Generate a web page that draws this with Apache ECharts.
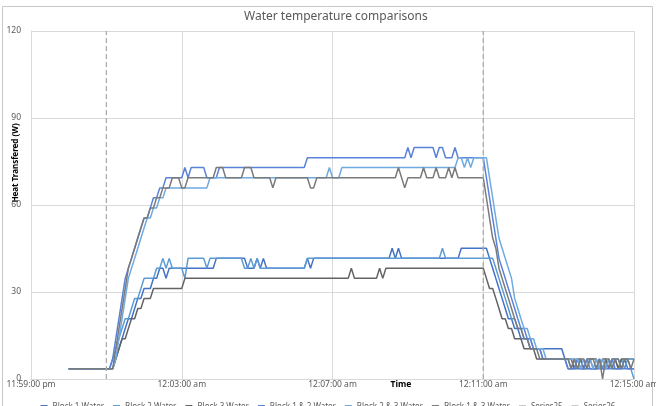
<!DOCTYPE html>
<html>
<head>
<meta charset="utf-8">
<script src="https://cdn.jsdelivr.net/npm/echarts@6/dist/echarts.min.js"></script>
<style>
html,body{margin:0;padding:0;background:#fff;}
#chart{width:656px;height:406px;}
</style>
</head>
<body>
<div id="chart"></div>
<script>
// X axis: seconds after 11:59:00 pm; tick labels every 4 minutes
const xTickLabels = ['11:59:00 pm', '12:03:00 am', '12:07:00 am', '12:11:00 am', '12:15:00 am'];
const xTickSeconds = [0, 240, 480, 720, 960];
const yTicks = [0, 30, 60, 90, 120];

// Samples every 5 s from 12:00:00 am (60 s) to 12:15:00 am (960 s); one row per minute
const sampleStartSec = 60;
const sampleStepSec = 5;

const seriesNames = ['Block 1 Water', 'Block 2 Water', 'Block 3 Water',
  'Block 1 & 2 Water', 'Block 2 & 3 Water', 'Block 1 & 3 Water', 'Series25', 'Series26'];

const block1 = [
  3.5,3.5,3.5,3.5,3.5,3.5,3.5,3.5,3.5,3.5,3.5,3.5,
  3.5,3.5,3.5,6.9,10.4,13.9,17.4,20.8,20.8,24.3,27.8,27.8,
  31.2,31.2,31.2,34.7,34.7,38.2,38.2,34.7,38.2,38.2,38.2,38.2,
  38.2,38.2,38.2,38.2,38.2,38.2,38.2,38.2,38.2,38.2,38.2,41.6,
  41.6,41.6,41.6,41.6,41.6,41.6,41.6,41.6,41.6,38.2,38.2,38.2,
  41.6,38.2,41.6,38.2,38.2,38.2,38.2,38.2,38.2,38.2,38.2,38.2,
  38.2,38.2,38.2,38.2,41.6,38.2,41.6,41.6,41.6,41.6,41.6,41.6,
  41.6,41.6,41.6,41.6,41.6,41.6,41.6,41.6,41.6,41.6,41.6,41.6,
  41.6,41.6,41.6,41.6,41.6,41.6,41.6,45.1,41.6,45.1,41.6,41.6,
  41.6,41.6,41.6,41.6,41.6,41.6,41.6,41.6,41.6,41.6,41.6,41.6,
  41.6,41.6,41.6,41.6,41.6,45.1,45.1,45.1,45.1,45.1,45.1,45.1,
  45.1,45.1,41.6,38.2,34.7,31.2,27.8,24.3,20.8,20.8,17.4,17.4,
  13.9,13.9,13.9,10.4,10.4,10.4,10.4,10.4,10.4,10.4,10.4,10.4,
  10.4,10.4,6.9,3.5,3.5,3.5,3.5,3.5,3.5,3.5,3.5,3.5,
  3.5,3.5,3.5,3.5,6.9,3.5,3.5,3.5,3.5,6.9,3.5,3.5,
  3.5
];
const block2 = [
  3.5,3.5,3.5,3.5,3.5,3.5,3.5,3.5,3.5,3.5,3.5,3.5,
  3.5,3.5,6.9,10.4,13.9,17.4,20.8,20.8,24.3,27.8,27.8,31.2,
  34.7,34.7,34.7,34.7,38.2,38.2,41.6,38.2,41.6,38.2,38.2,38.2,
  38.2,34.7,41.6,41.6,41.6,41.6,41.6,41.6,38.2,41.6,41.6,41.6,
  41.6,41.6,41.6,41.6,41.6,41.6,41.6,41.6,38.2,38.2,41.6,38.2,
  41.6,38.2,38.2,38.2,38.2,38.2,38.2,38.2,38.2,38.2,38.2,38.2,
  38.2,38.2,38.2,38.2,41.6,41.6,41.6,41.6,41.6,41.6,41.6,41.6,
  41.6,41.6,41.6,41.6,41.6,41.6,41.6,41.6,41.6,41.6,41.6,41.6,
  41.6,41.6,41.6,41.6,41.6,41.6,41.6,41.6,41.6,41.6,41.6,41.6,
  41.6,41.6,41.6,41.6,41.6,41.6,41.6,41.6,41.6,41.6,41.6,45.1,
  41.6,41.6,41.6,41.6,41.6,41.6,41.6,41.6,41.6,41.6,41.6,41.6,
  41.6,41.6,41.6,41.6,38.2,34.7,31.2,27.8,24.3,20.8,20.8,17.4,
  17.4,13.9,13.9,13.9,10.4,10.4,10.4,6.9,6.9,6.9,6.9,6.9,
  6.9,6.9,6.9,6.9,3.5,6.9,3.5,6.9,3.5,3.5,6.9,3.5,
  3.5,6.9,3.5,6.9,3.5,3.5,6.9,3.5,6.9,3.5,6.9,3.5,
  0
];
const block3 = [
  3.5,3.5,3.5,3.5,3.5,3.5,3.5,3.5,3.5,3.5,3.5,3.5,
  3.5,3.5,3.5,6.9,10.4,13.9,13.9,17.4,20.8,20.8,24.3,24.3,
  27.8,27.8,27.8,31.2,31.2,31.2,31.2,31.2,31.2,31.2,31.2,31.2,
  31.2,34.7,34.7,34.7,34.7,34.7,34.7,34.7,34.7,34.7,34.7,34.7,
  34.7,34.7,34.7,34.7,34.7,34.7,34.7,34.7,34.7,34.7,34.7,34.7,
  34.7,34.7,34.7,34.7,34.7,34.7,34.7,34.7,34.7,34.7,34.7,34.7,
  34.7,34.7,34.7,34.7,34.7,34.7,34.7,34.7,34.7,34.7,34.7,34.7,
  34.7,34.7,34.7,34.7,34.7,34.7,38.2,34.7,34.7,34.7,34.7,34.7,
  34.7,34.7,34.7,38.2,34.7,38.2,38.2,38.2,38.2,38.2,38.2,38.2,
  38.2,38.2,38.2,38.2,38.2,38.2,38.2,38.2,38.2,38.2,38.2,38.2,
  38.2,38.2,38.2,38.2,38.2,38.2,38.2,38.2,38.2,38.2,38.2,38.2,
  38.2,34.7,31.2,31.2,27.8,24.3,20.8,20.8,17.4,17.4,13.9,13.9,
  13.9,10.4,10.4,10.4,10.4,6.9,6.9,6.9,6.9,6.9,6.9,6.9,
  6.9,6.9,6.9,6.9,6.9,3.5,6.9,6.9,3.5,6.9,6.9,6.9,
  6.9,3.5,6.9,6.9,3.5,6.9,6.9,3.5,6.9,6.9,6.9,6.9,
  6.9
];
const block12 = [
  3.5,3.5,3.5,3.5,3.5,3.5,3.5,3.5,3.5,3.5,3.5,3.5,
  3.5,3.5,6.9,13.9,20.8,27.8,34.7,38.2,41.6,45.1,48.6,52.1,
  55.5,55.5,59.0,62.5,62.5,65.9,65.9,69.4,69.4,69.4,69.4,69.4,
  69.4,72.9,69.4,72.9,72.9,72.9,72.9,72.9,69.4,69.4,69.4,69.4,
  72.9,72.9,72.9,72.9,72.9,72.9,72.9,72.9,72.9,72.9,72.9,72.9,
  72.9,72.9,72.9,72.9,72.9,72.9,72.9,72.9,72.9,72.9,72.9,72.9,
  72.9,72.9,72.9,72.9,76.3,76.3,76.3,76.3,76.3,76.3,76.3,76.3,
  76.3,76.3,76.3,76.3,76.3,76.3,76.3,76.3,76.3,76.3,76.3,76.3,
  76.3,76.3,76.3,76.3,76.3,76.3,76.3,76.3,76.3,76.3,76.3,76.3,
  79.8,76.3,79.8,79.8,79.8,79.8,79.8,79.8,79.8,76.3,79.8,79.8,
  76.3,76.3,76.3,79.8,76.3,76.3,76.3,76.3,76.3,76.3,76.3,76.3,
  76.3,69.4,62.5,55.5,48.6,41.6,38.2,34.7,31.2,27.8,24.3,20.8,
  17.4,17.4,13.9,13.9,10.4,10.4,10.4,6.9,6.9,6.9,6.9,6.9,
  6.9,6.9,6.9,3.5,3.5,3.5,6.9,3.5,3.5,6.9,3.5,3.5,
  3.5,6.9,3.5,3.5,3.5,6.9,3.5,3.5,3.5,3.5,3.5,3.5,
  3.5
];
const block23 = [
  3.5,3.5,3.5,3.5,3.5,3.5,3.5,3.5,3.5,3.5,3.5,3.5,
  3.5,3.5,3.5,6.9,13.9,20.8,27.8,34.7,38.2,41.6,45.1,48.6,
  52.1,55.5,55.5,59.0,59.0,62.5,62.5,65.9,65.9,65.9,65.9,65.9,
  65.9,65.9,65.9,65.9,65.9,65.9,65.9,65.9,65.9,69.4,69.4,69.4,
  69.4,69.4,69.4,69.4,69.4,69.4,69.4,69.4,69.4,69.4,69.4,69.4,
  69.4,69.4,69.4,69.4,69.4,69.4,69.4,69.4,69.4,69.4,69.4,69.4,
  69.4,69.4,69.4,69.4,69.4,69.4,69.4,69.4,69.4,69.4,69.4,72.9,
  69.4,69.4,69.4,72.9,72.9,72.9,72.9,72.9,72.9,72.9,72.9,72.9,
  72.9,72.9,72.9,72.9,72.9,72.9,72.9,72.9,72.9,72.9,72.9,72.9,
  72.9,72.9,72.9,72.9,72.9,72.9,72.9,72.9,72.9,72.9,72.9,72.9,
  72.9,72.9,72.9,72.9,76.3,76.3,72.9,76.3,72.9,76.3,76.3,76.3,
  76.3,76.3,69.4,62.5,55.5,48.6,45.1,41.6,38.2,34.7,27.8,24.3,
  20.8,17.4,17.4,13.9,13.9,10.4,10.4,10.4,6.9,6.9,6.9,6.9,
  6.9,6.9,6.9,6.9,6.9,6.9,6.9,3.5,6.9,3.5,6.9,3.5,
  6.9,3.5,6.9,3.5,6.9,3.5,6.9,6.9,3.5,6.9,6.9,6.9,
  6.9
];
const block13 = [
  3.5,3.5,3.5,3.5,3.5,3.5,3.5,3.5,3.5,3.5,3.5,3.5,
  3.5,3.5,3.5,10.4,17.4,24.3,31.2,38.2,41.6,45.1,48.6,52.1,
  55.5,55.5,59.0,59.0,62.5,62.5,65.9,65.9,65.9,69.4,69.4,69.4,
  65.9,65.9,69.4,69.4,69.4,69.4,69.4,69.4,69.4,69.4,69.4,72.9,
  72.9,72.9,69.4,69.4,69.4,69.4,69.4,69.4,72.9,72.9,72.9,69.4,
  69.4,69.4,69.4,69.4,69.4,65.9,69.4,69.4,69.4,69.4,69.4,69.4,
  69.4,69.4,69.4,69.4,69.4,65.9,65.9,69.4,69.4,69.4,69.4,69.4,
  69.4,69.4,69.4,69.4,69.4,69.4,69.4,69.4,69.4,69.4,69.4,69.4,
  69.4,69.4,69.4,69.4,69.4,69.4,69.4,69.4,69.4,72.9,69.4,65.9,
  69.4,69.4,69.4,69.4,69.4,72.9,69.4,69.4,69.4,72.9,69.4,69.4,
  69.4,72.9,69.4,72.9,69.4,69.4,69.4,69.4,69.4,69.4,69.4,69.4,
  69.4,62.5,55.5,48.6,45.1,38.2,34.7,31.2,27.8,24.3,20.8,17.4,
  17.4,13.9,13.9,10.4,10.4,10.4,6.9,6.9,6.9,6.9,6.9,6.9,
  6.9,6.9,6.9,6.9,3.5,6.9,3.5,6.9,6.9,3.5,6.9,6.9,
  3.5,6.9,0,6.9,6.9,3.5,6.9,6.9,3.5,6.9,6.9,3.5,
  6.9
];
// Series25 / Series26: vertical reference lines (x in seconds after 11:59:00 pm, y values)
const series25X = [120, 120], series25Y = [0, 120];
const series26X = [720, 720], series26Y = [0, 120];

const colors = ['#4472C4', '#5B9BD5', '#636363', '#5A82D8', '#6FAAE0', '#7A7A7A', '#C8C8C8', '#C8C8C8'];

function timed(values) {
  return values.map((v, i) => [sampleStartSec + i * sampleStepSec, v]);
}
function pairs(xs, ys) { return xs.map((x, i) => [x, ys[i]]); }

const dataSets = [block1, block2, block3, block12, block23, block13];
const series = dataSets.map((vals, k) => ({
  name: seriesNames[k], type: 'line', showSymbol: false, symbol: 'none',
  data: timed(vals), lineStyle: { width: 1.5, color: colors[k] }, itemStyle: { color: colors[k] },
  z: 3
}));
series.push({
  name: seriesNames[6], type: 'line', showSymbol: false, symbol: 'none',
  data: pairs(series25X, series25Y), lineStyle: { width: 1.3, color: '#ABABAB', type: [5, 3] },
  itemStyle: { color: colors[6] }, z: 4
});
series.push({
  name: seriesNames[7], type: 'line', showSymbol: false, symbol: 'none',
  data: pairs(series26X, series26Y), lineStyle: { width: 1.3, color: '#ABABAB', type: [5, 3] },
  itemStyle: { color: colors[7] }, z: 4
});

const FONT = 'Noto Sans';
const chart = echarts.init(document.getElementById('chart'), null, { renderer: 'canvas' });
chart.setOption({
  animation: false,
  backgroundColor: '#ffffff',
  title: {
    text: 'Water temperature comparisons', left: 239, top: 6,
    textStyle: { fontFamily: FONT, fontSize: 12, fontWeight: 'normal', color: '#595959' }
  },
  grid: { left: 31, right: 22, top: 31, bottom: 27, containLabel: false, outerBoundsMode: 'none' },
  legend: {
    data: seriesNames, left: 'center', top: 398, icon: 'rect', itemWidth: 7, itemHeight: 4,
    itemGap: 9, textStyle: { fontFamily: FONT, fontSize: 8, color: '#595959' }
  },
  xAxis: {
    type: 'value', min: xTickSeconds[0], max: xTickSeconds[xTickSeconds.length - 1], interval: 240,
    axisLine: { show: true, lineStyle: { color: '#D9D9D9', width: 1 } },
    axisTick: { show: false },
    splitLine: { show: true, lineStyle: { color: '#D9D9D9', width: 1 } },
    axisLabel: {
      margin: 1, fontFamily: FONT, fontSize: 8.5, color: '#595959', showMinLabel: true, showMaxLabel: true,
      hideOverlap: false,
      formatter: v => xTickLabels[xTickSeconds.indexOf(v)] || ''
    }
  },
  yAxis: {
    type: 'value', min: yTicks[0], max: yTicks[yTicks.length - 1], interval: 30,
    axisLine: { show: true, lineStyle: { color: '#D9D9D9', width: 1 } },
    axisTick: { show: false },
    splitLine: { show: true, lineStyle: { color: '#D9D9D9', width: 1 } },
    axisLabel: { margin: 10, fontFamily: FONT, fontSize: 8.5, color: '#595959' }
  },
  graphic: [
    { type: 'rect', shape: { x: 2.5, y: 6.5, width: 650, height: 420 },
      style: { fill: 'none', stroke: '#C8C8C8', lineWidth: 1 }, silent: true, z: -1 },
    { type: 'text', x: 16, y: 163, rotation: Math.PI / 2,
      style: { text: 'Heat Transfered (W)', textAlign: 'center', textVerticalAlign: 'middle',
        font: 'bold 8px "Noto Sans"', fill: '#000000' } },
    { type: 'text', x: 401, y: 385,
      style: { text: 'Time', textAlign: 'center', textVerticalAlign: 'middle',
        font: 'bold 8.5px "Noto Sans"', fill: '#000000' } }
  ],
  series: series
});
</script>
</body>
</html>
